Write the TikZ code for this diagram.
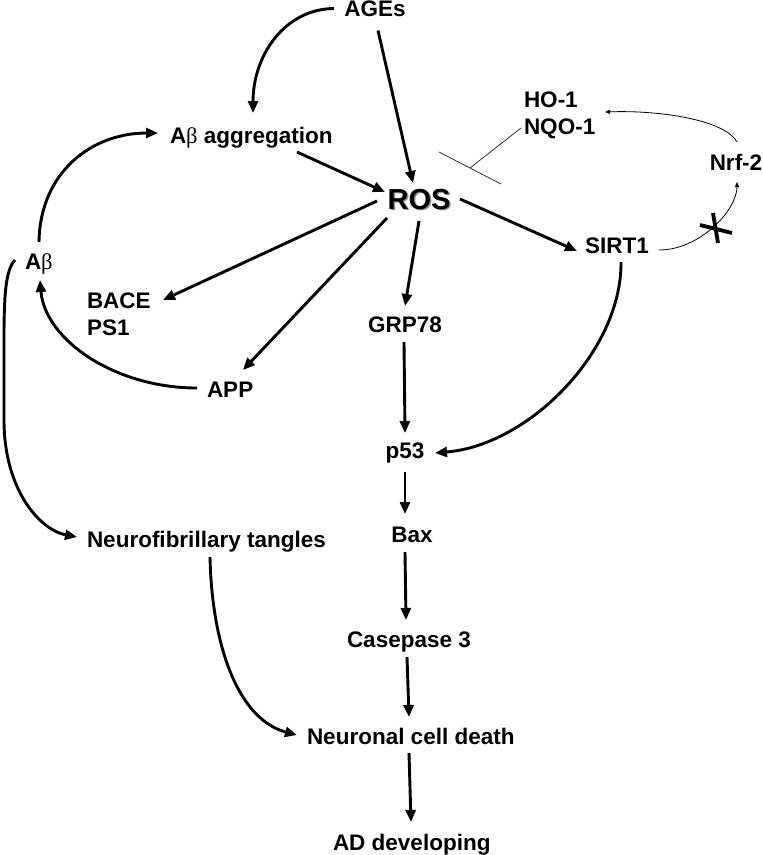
\documentclass[tikz,border=0pt]{standalone}
\usepackage{fontspec}
\setmainfont{Liberation Sans}
\newfontfamily\betafont{Liberation Serif}
\usetikzlibrary{arrows.meta,calc}
\newcommand{\Abeta}{A{\betafont\mdseries β}}
\begin{document}
\begin{tikzpicture}[x=1pt,y=-1pt,
  lbl/.style={font=\fontsize{22.5}{26}\selectfont\bfseries, inner sep=0pt, outer sep=0pt},
  roslbl/.style={font=\fontsize{29}{34}\selectfont\bfseries, inner sep=0pt, outer sep=0pt},
  arr/.style={line width=2.9pt, -{Triangle[length=12pt,width=10pt]}},
  thinarr/.style={line width=0.8pt, -{Triangle[length=5pt,width=4pt]}},
  thinln/.style={line width=0.8pt, draw=black!80}]
\useasboundingbox (0,0) rectangle (763,855);

% nodes
\node[lbl,anchor=base] (AGEs) at (375,16.5) {AGEs};
\node[lbl,anchor=base west] (agg) at (170,143) {\Abeta\ aggregation};
\node[roslbl,anchor=base,text=black!45] (ROSsh) at (420.5,210.5) {ROS};
\node[roslbl,anchor=base] (ROS) at (419,209) {ROS};
\node[lbl,anchor=base west] (HO) at (524,107) {HO-1};
\node[lbl,anchor=base west] (NQO) at (524,134) {NQO-1};
\node[lbl,anchor=base] (Nrf) at (736,170) {Nrf-2};
\node[lbl,anchor=base] (SIRT) at (617,253) {SIRT1};
\node[lbl,anchor=base west] (Ab) at (25,269) {\Abeta};
\node[lbl,anchor=base west] (BACE) at (87,308) {BACE};
\node[lbl,anchor=base west] (PS) at (87,335) {PS1};
\node[lbl,anchor=base west] (APP) at (207,397) {APP};
\node[lbl,anchor=base west] (GRP) at (368,332) {GRP78};
\node[lbl,anchor=base] (p53) at (405,458) {p53};
\node[lbl,anchor=base] (Bax) at (412,542) {Bax};
\node[lbl,anchor=base west] (NFT) at (87,547) {Neurofibrillary tangles};
\node[lbl,anchor=base west] (Casp) at (347,647) {Casepase 3};
\node[lbl,anchor=base west] (Neur) at (307,744) {Neuronal cell death};
\node[lbl,anchor=base west] (AD) at (333,850) {AD developing};
\coordinate (inh) at (470,168);
\coordinate (xmark) at (716,228);

% connectors
\draw[arr] ($(AGEs.base)+(-41,-8)$) .. controls (285,9) and (253,55) .. ($(agg.base west)+(83,-30)$);
\draw[arr] ($(AGEs.base)+(3,14)$) -- ($(ROS.base)+(-6,-26)$);
\draw[arr] ($(agg.base west)+(127,9)$) -- ($(ROS.base)+(-34,-17)$);
\draw[arr] ($(Ab.base west)+(14,-27)$) .. controls (40,172) and (92,133) .. ($(agg.base west)+(-12,-10)$);
\draw[arr] ($(ROS.base)+(-42,-8)$) -- ($(BACE.base west)+(76,-8)$);
\draw[arr] ($(ROS.base)+(-32,9)$) -- ($(APP.base west)+(36,-27)$);
\draw[arr] ($(ROS.base)+(0,12)$) -- ($(GRP.base west)+(37,-26)$);
\draw[arr] ($(ROS.base)+(41,-10)$) -- ($(SIRT.base)+(-40,-2)$);
\draw[thinln] ($(NQO.base west)+(-3,-6)$) -- (inh);
\draw[thinln] ($(inh)+(-31,-16)$) -- ($(inh)+(31,16)$);
\draw[thinarr] ($(Nrf.base)+(1,-28)$) .. controls (725,120) and (660,110) .. ($(HO.base west)+(81,5)$);
\draw[thinarr] ($(SIRT.base)+(42,-3)$) .. controls (700,250) and (737,210) .. ($(Nrf.base)+(1,12)$);
\draw[line width=3.8pt] ($(xmark)+(-3,-15)$) -- ($(xmark)+(2,15)$);
\draw[line width=3.8pt] ($(xmark)+(-16,-3)$) -- ($(xmark)+(16,5)$);
\draw[arr] ($(SIRT.base)+(4,9)$) .. controls (622,350) and (530,445) .. ($(p53.base)+(30,-5)$);
\draw[arr] ($(GRP.base west)+(36,10)$) -- ($(p53.base)+(0,-25)$);
\draw[arr] ($(p53.base)+(0,14)$) -- ($(Bax.base)+(-7,-28)$);
\draw[arr] ($(Bax.base)+(-7,10)$) -- ($(Casp.base west)+(59,-27)$);
\draw[arr] ($(Casp.base west)+(60,10)$) -- ($(Neur.base west)+(102,-27)$);
\draw[arr] ($(Neur.base west)+(102,9)$) -- ($(AD.base west)+(78,-28)$);
\draw[arr] ($(NFT.base west)+(123,10)$) .. controls (212,650) and (240,720) .. ($(Neur.base west)+(-10,-9)$);
\draw[arr] ($(Ab.base west)+(-10,-9)$) .. controls (5,270) and (4,300) .. (4,340) -- (4,420) .. controls (4,490) and (40,530) .. ($(NFT.base west)+(-10,-10)$);
\draw[arr] ($(APP.base west)+(-10,-9)$) .. controls (115,388) and (45,340) .. ($(Ab.base west)+(15,11)$);
\end{tikzpicture}
\end{document}
